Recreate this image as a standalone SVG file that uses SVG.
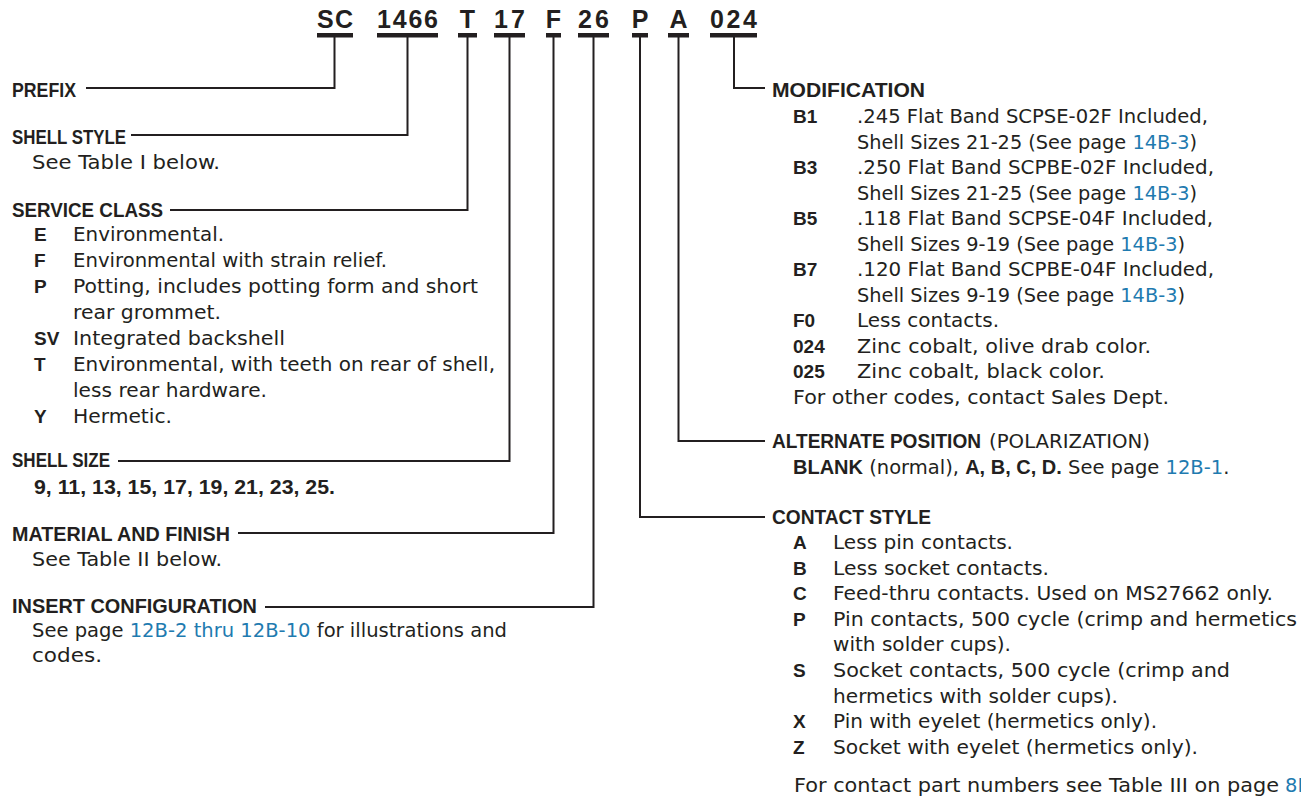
<svg xmlns="http://www.w3.org/2000/svg" width="1301" height="799" viewBox="0 0 1301 799">
<style>
text{fill:#231f20}
.h{font-family:"Liberation Sans",Arial,sans-serif;font-weight:bold;font-size:20px}
.b{font-family:"DejaVu Sans","Liberation Sans",sans-serif;font-size:19.5px}
.l{font-family:"Liberation Sans",Arial,sans-serif;font-weight:bold;font-size:19px}
.bb{font-family:"Liberation Sans",Arial,sans-serif;font-weight:bold}
.lnk{fill:#1f7bb0}
.pn{font-family:"Liberation Sans",Arial,sans-serif;font-weight:bold;font-size:25px}
.bar{fill:#231f20}
.c{fill:none;stroke:#231f20;stroke-width:2}
</style>

<g id="part-number">
  <g id="pn-sc"><text class="pn" x="317" y="28" textLength="36" lengthAdjust="spacing">SC</text><rect class="bar" x="317" y="33" width="36" height="4.5"/></g>
  <g id="pn-1466"><text class="pn" x="377" y="28" textLength="61" lengthAdjust="spacing">1466</text><rect class="bar" x="377" y="33" width="61" height="4.5"/></g>
  <g id="pn-t"><text class="pn" x="467.5" y="28" text-anchor="middle">T</text><rect class="bar" x="458" y="33" width="19" height="4.5"/></g>
  <g id="pn-17"><text class="pn" x="494" y="28" textLength="31" lengthAdjust="spacing">17</text><rect class="bar" x="494" y="33" width="31" height="4.5"/></g>
  <g id="pn-f"><text class="pn" x="553.5" y="28" text-anchor="middle">F</text><rect class="bar" x="546" y="33" width="15" height="4.5"/></g>
  <g id="pn-26"><text class="pn" x="578" y="28" textLength="31" lengthAdjust="spacing">26</text><rect class="bar" x="578" y="33" width="31" height="4.5"/></g>
  <g id="pn-p"><text class="pn" x="640" y="28" text-anchor="middle">P</text><rect class="bar" x="632" y="33" width="16" height="4.5"/></g>
  <g id="pn-a"><text class="pn" x="678.5" y="28" text-anchor="middle">A</text><rect class="bar" x="668" y="33" width="21" height="4.5"/></g>
  <g id="pn-024"><text class="pn" x="710" y="28" textLength="47" lengthAdjust="spacing">024</text><rect class="bar" x="710" y="33" width="47" height="4.5"/></g>
</g>

<g id="connectors">
  <path class="c" d="M334.5,37 V88 H86"/>
  <path class="c" d="M407.5,37 V135 H131"/>
  <path class="c" d="M467.5,37 V210 H170"/>
  <path class="c" d="M509.5,37 V461 H118"/>
  <path class="c" d="M553.5,37 V533 H238"/>
  <path class="c" d="M593.5,37 V607 H265"/>
  <path class="c" d="M640,37 V517 H765"/>
  <path class="c" d="M678.5,37 V441 H765"/>
  <path class="c" d="M734,37 V88 H765"/>
</g>

<g id="prefix">
  <text class="h" x="12" y="97" textLength="64" lengthAdjust="spacingAndGlyphs">PREFIX</text>
</g>

<g id="shell-style">
  <text class="h" x="12" y="144" textLength="114" lengthAdjust="spacingAndGlyphs">SHELL STYLE</text>
  <text class="b" x="32" y="169" textLength="188" lengthAdjust="spacingAndGlyphs">See Table I below.</text>
</g>

<g id="service-class">
  <text class="h" x="12" y="217" textLength="151" lengthAdjust="spacingAndGlyphs">SERVICE CLASS</text>
  <text class="l" x="34" y="241">E</text><text class="b" x="73" y="241" textLength="151" lengthAdjust="spacingAndGlyphs">Environmental.</text>
  <text class="l" x="34" y="267">F</text><text class="b" x="73" y="267" textLength="314" lengthAdjust="spacingAndGlyphs">Environmental with strain relief.</text>
  <text class="l" x="34" y="293">P</text><text class="b" x="73" y="293" textLength="405" lengthAdjust="spacingAndGlyphs">Potting, includes potting form and short</text>
  <text class="b" x="73" y="319" textLength="148" lengthAdjust="spacingAndGlyphs">rear grommet.</text>
  <text class="l" x="34" y="345">SV</text><text class="b" x="73" y="345" textLength="212" lengthAdjust="spacingAndGlyphs">Integrated backshell</text>
  <text class="l" x="34" y="371">T</text><text class="b" x="73" y="371" textLength="422" lengthAdjust="spacingAndGlyphs">Environmental, with teeth on rear of shell,</text>
  <text class="b" x="73" y="397" textLength="194" lengthAdjust="spacingAndGlyphs">less rear hardware.</text>
  <text class="l" x="34" y="423">Y</text><text class="b" x="73" y="423" textLength="99" lengthAdjust="spacingAndGlyphs">Hermetic.</text>
</g>

<g id="shell-size">
  <text class="h" x="12" y="467" textLength="98" lengthAdjust="spacingAndGlyphs">SHELL SIZE</text>
  <text class="bb" x="34" y="494" font-size="20" textLength="301" lengthAdjust="spacingAndGlyphs">9, 11, 13, 15, 17, 19, 21, 23, 25.</text>
</g>

<g id="material-finish">
  <text class="h" x="12" y="541" textLength="218" lengthAdjust="spacingAndGlyphs">MATERIAL AND FINISH</text>
  <text class="b" x="32" y="566" textLength="190" lengthAdjust="spacingAndGlyphs">See Table II below.</text>
</g>

<g id="insert-configuration">
  <text class="h" x="12" y="613" textLength="245" lengthAdjust="spacingAndGlyphs">INSERT CONFIGURATION</text>
  <text class="b" x="32" y="637" textLength="475" lengthAdjust="spacingAndGlyphs">See page <tspan class="lnk">12B-2 thru 12B-10</tspan> for illustrations and</text>
  <text class="b" x="32" y="662" textLength="70" lengthAdjust="spacingAndGlyphs">codes.</text>
</g>

<g id="modification">
  <text class="h" x="772" y="96.5" textLength="153" lengthAdjust="spacingAndGlyphs">MODIFICATION</text>
  <text class="l" x="793" y="123">B1</text><text class="b" x="857" y="123" textLength="351" lengthAdjust="spacingAndGlyphs">.245 Flat Band SCPSE-02F Included,</text>
  <text class="b" x="857" y="148.5" textLength="340" lengthAdjust="spacingAndGlyphs">Shell Sizes 21-25 (See page <tspan class="lnk">14B-3</tspan>)</text>
  <text class="l" x="793" y="174">B3</text><text class="b" x="857" y="174" textLength="357" lengthAdjust="spacingAndGlyphs">.250 Flat Band SCPBE-02F Included,</text>
  <text class="b" x="857" y="199.5" textLength="340" lengthAdjust="spacingAndGlyphs">Shell Sizes 21-25 (See page <tspan class="lnk">14B-3</tspan>)</text>
  <text class="l" x="793" y="225">B5</text><text class="b" x="857" y="225" textLength="356" lengthAdjust="spacingAndGlyphs">.118 Flat Band SCPSE-04F Included,</text>
  <text class="b" x="857" y="250.5" textLength="328" lengthAdjust="spacingAndGlyphs">Shell Sizes 9-19 (See page <tspan class="lnk">14B-3</tspan>)</text>
  <text class="l" x="793" y="276">B7</text><text class="b" x="857" y="276" textLength="357" lengthAdjust="spacingAndGlyphs">.120 Flat Band SCPBE-04F Included,</text>
  <text class="b" x="857" y="301.5" textLength="328" lengthAdjust="spacingAndGlyphs">Shell Sizes 9-19 (See page <tspan class="lnk">14B-3</tspan>)</text>
  <text class="l" x="793" y="327">F0</text><text class="b" x="857" y="327" textLength="142" lengthAdjust="spacingAndGlyphs">Less contacts.</text>
  <text class="l" x="793" y="352.5">024</text><text class="b" x="857" y="352.5" textLength="294" lengthAdjust="spacingAndGlyphs">Zinc cobalt, olive drab color.</text>
  <text class="l" x="793" y="378">025</text><text class="b" x="857" y="378" textLength="248" lengthAdjust="spacingAndGlyphs">Zinc cobalt, black color.</text>
  <text class="b" x="793" y="403.5" textLength="376" lengthAdjust="spacingAndGlyphs">For other codes, contact Sales Dept.</text>
</g>

<g id="alternate-position">
  <text class="h" x="772" y="448" textLength="209" lengthAdjust="spacingAndGlyphs">ALTERNATE POSITION</text>
  <text class="b" x="989" y="448" textLength="161" lengthAdjust="spacingAndGlyphs">(POLARIZATION)</text>
  <text class="b" x="793" y="474"><tspan class="bb" font-size="20">BLANK</tspan> (normal), <tspan class="bb" font-size="20">A, B, C, D.</tspan> See page <tspan class="lnk">12B-1</tspan>.</text>
</g>

<g id="contact-style">
  <text class="h" x="772" y="524" textLength="159" lengthAdjust="spacingAndGlyphs">CONTACT STYLE</text>
  <text class="l" x="793" y="549">A</text><text class="b" x="833" y="549" textLength="180" lengthAdjust="spacingAndGlyphs">Less pin contacts.</text>
  <text class="l" x="793" y="574.6">B</text><text class="b" x="833" y="574.6" textLength="216" lengthAdjust="spacingAndGlyphs">Less socket contacts.</text>
  <text class="l" x="793" y="600.2">C</text><text class="b" x="833" y="600.2" textLength="440" lengthAdjust="spacingAndGlyphs">Feed-thru contacts. Used on MS27662 only.</text>
  <text class="l" x="793" y="625.8">P</text><text class="b" x="833" y="625.8" textLength="464" lengthAdjust="spacingAndGlyphs">Pin contacts, 500 cycle (crimp and hermetics</text>
  <text class="b" x="833" y="651.4" textLength="178" lengthAdjust="spacingAndGlyphs">with solder cups).</text>
  <text class="l" x="793" y="677">S</text><text class="b" x="833" y="677" textLength="397" lengthAdjust="spacingAndGlyphs">Socket contacts, 500 cycle (crimp and</text>
  <text class="b" x="833" y="702.6" textLength="285" lengthAdjust="spacingAndGlyphs">hermetics with solder cups).</text>
  <text class="l" x="793" y="728.2">X</text><text class="b" x="833" y="728.2" textLength="324" lengthAdjust="spacingAndGlyphs">Pin with eyelet (hermetics only).</text>
  <text class="l" x="793" y="753.8">Z</text><text class="b" x="833" y="753.8" textLength="365" lengthAdjust="spacingAndGlyphs">Socket with eyelet (hermetics only).</text>
  <text class="b" x="794" y="792" textLength="485" lengthAdjust="spacingAndGlyphs">For contact part numbers see Table III on page</text>
  <text class="b lnk" x="1285" y="792">8B</text>
</g>
</svg>
